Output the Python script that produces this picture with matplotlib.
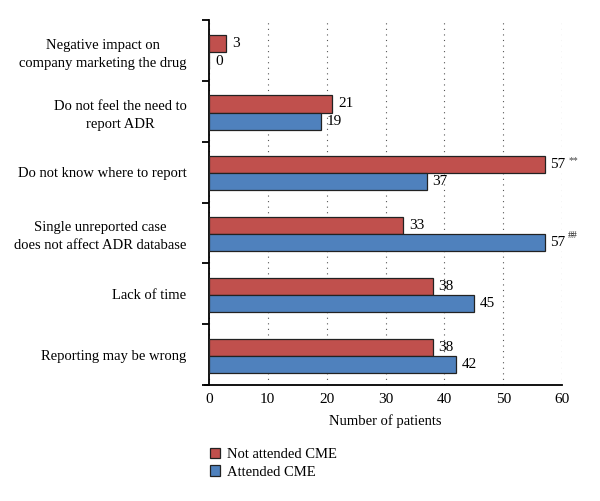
import numpy as np
import matplotlib.pyplot as plt
from matplotlib.ticker import FixedLocator

plt.rcParams['font.family'] = ['Liberation Serif', 'DejaVu Serif']

categories = ["Negative impact on\ncompany marketing the drug",
              "Do not feel the need to\nreport ADR",
              "Do not know where to report",
              "Single unreported case\ndoes not affect ADR database",
              "Lack of time",
              "Reporting may be wrong"]
not_attended = [3, 21, 57, 33, 38, 38]
attended = [0, 19, 37, 57, 45, 42]
red_marks = ["", "", "**", "", "", ""]
blue_marks = ["", "", "", "##", "", ""]

red = "#C0504D"
blue = "#4F81BD"
edge = "#222222"

fig = plt.figure(figsize=(6, 5.01), dpi=100)
ax = fig.add_axes([0.348, 0.2315, 0.589, 0.7285])

y = np.arange(len(categories))
h = 0.28
b1 = ax.barh(y - h / 2 + 0.02, not_attended, height=h, color=red, edgecolor=edge, linewidth=0.9,
             label="Not attended CME", zorder=3)
b2 = ax.barh(y + h / 2 + 0.02, attended, height=h, color=blue, edgecolor=edge, linewidth=0.9,
             label="Attended CME", zorder=3)

for i in range(len(categories)):
    ax.annotate(str(not_attended[i]), (not_attended[i], y[i] - h / 2 + 0.02), xytext=(4, 0),
                textcoords="offset points", va="center", ha="left", fontsize=11)
    if red_marks[i]:
        ax.annotate(red_marks[i], (not_attended[i], y[i] - h / 2 + 0.02), xytext=(17, 3),
                    textcoords="offset points", va="center", ha="left", fontsize=7, color="#444444")
    if attended[i] == 0:
        ax.annotate("0", (0, y[i] + h / 2 + 0.02), xytext=(5, -1),
                    textcoords="offset points", va="center", ha="left", fontsize=11)
    else:
        ax.annotate(str(attended[i]), (attended[i], y[i] + h / 2 + 0.02), xytext=(4, 0),
                    textcoords="offset points", va="center", ha="left", fontsize=11)
    if blue_marks[i]:
        ax.annotate(blue_marks[i], (attended[i], y[i] + h / 2 + 0.02), xytext=(17, 5),
                    textcoords="offset points", va="center", ha="left", fontsize=7, color="#222222")

ax.set_xlim(0, 60)
ax.set_ylim(len(categories) - 0.5, -0.5)
ax.set_xticks(range(0, 61, 10))
ax.tick_params(axis="x", length=0, labelsize=11, pad=6)
ax.set_yticks(y)
ax.set_yticklabels(categories, fontsize=10.5, multialignment="center", linespacing=1.5)
ax.yaxis.set_minor_locator(FixedLocator(np.arange(-0.5, len(categories), 1.0)))
ax.tick_params(axis="y", which="major", length=0, pad=16)
ax.tick_params(axis="y", which="minor", length=5, width=1.3, direction="out")
for s in ["top", "right"]:
    ax.spines[s].set_visible(False)
ax.spines["left"].set_linewidth(1.3)
ax.spines["bottom"].set_linewidth(1.3)
ax.spines["bottom"].set_bounds(-0.7, 60)
ax.xaxis.grid(True, linestyle=(0, (1, 4)), color="#555555", linewidth=0.8, zorder=0)
ax.set_xlabel("Number of patients", fontsize=10.5, labelpad=6)

fig.legend(handles=[b1, b2], loc="upper left", bbox_to_anchor=(0.34, 0.118), frameon=False,
           fontsize=10.5, handlelength=0.7, handleheight=0.7, handletextpad=0.5, labelspacing=0.3,
           borderaxespad=0)

fig.savefig("out.png", dpi=100)
